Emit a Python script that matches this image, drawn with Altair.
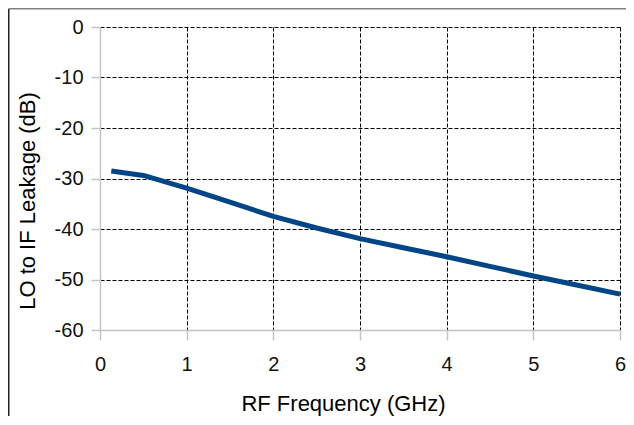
import altair as alt
import pandas as pd

# Data
freq_ghz = [0.13, 0.5, 1.0, 1.5, 2.0, 2.5, 3.0, 3.5, 4.0, 4.5, 5.0, 5.5, 6.0]
leakage_db = [-28.5, -29.4, -31.9, -34.7, -37.5, -39.8, -41.9, -43.7, -45.5, -47.4, -49.3, -51.1, -52.9]
x_ticks = [0, 1, 2, 3, 4, 5, 6]
y_ticks = [0, -10, -20, -30, -40, -50, -60]

df = pd.DataFrame({"freq": freq_ghz, "leak": leakage_db})

W, H = 520, 303
FONT = "Liberation Sans"
AXIS_GRAY = "#c4c4c4"

x_axis = alt.Axis(
    values=x_ticks,
    title="RF Frequency (GHz)",
    labelExpr="'' + datum.value",
    labelFont=FONT, labelFontSize=20, labelColor="#111111",
    labelBaseline="alphabetic", labelPadding=30,
    tickSize=10, tickColor=AXIS_GRAY, tickWidth=1.5,
    domainColor=AXIS_GRAY, domainWidth=1.5,
    grid=True,
    gridColor=alt.condition("datum.value == 0", alt.value("transparent"), alt.value("#000000")),
    gridDash=[4, 2], gridWidth=1,
    titleFont=FONT, titleFontSize=22, titleFontWeight="normal", titleColor="#000000",
    titleBaseline="alphabetic", titleX=243, titleY=80, titleAlign="center",
    labelFlush=False,
)

y_axis = alt.Axis(
    values=y_ticks,
    title="LO to IF Leakage (dB)",
    labelExpr="'' + datum.value",
    labelFont=FONT, labelFontSize=20, labelColor="#111111",
    labelPadding=8,
    tickSize=9, tickColor=AXIS_GRAY, tickWidth=1.5,
    domainColor=AXIS_GRAY, domainWidth=1.5,
    grid=True,
    gridColor=alt.condition("datum.value == -60", alt.value("transparent"), alt.value("#000000")),
    gridDash=[4, 2], gridWidth=1,
    titleFont=FONT, titleFontSize=22, titleFontWeight="normal", titleColor="#000000",
    titleAngle=270, titleBaseline="alphabetic", titleAlign="center",
    titleX=-66, titleY=173.5,
    labelFlush=False,
)

line = alt.Chart(df).mark_line(color="#004586", strokeWidth=5, strokeJoin="round").encode(
    x=alt.X("freq:Q", scale=alt.Scale(domain=[0, 6], nice=False, zero=False), axis=x_axis),
    y=alt.Y("leak:Q", scale=alt.Scale(domain=[-60, 0], nice=False, zero=False), axis=y_axis),
)

frame_df = pd.DataFrame({"k": [0]})
frame_left = alt.Chart(frame_df).mark_rule(color="#222222", strokeWidth=1.5).encode(
    x=alt.value(-91.25), y=alt.value(-18.25), y2=alt.value(400)
)
frame_top = alt.Chart(frame_df).mark_rule(color="#808080", strokeWidth=1.5).encode(
    x=alt.value(-91.25), x2=alt.value(540), y=alt.value(-18.25)
)

chart = alt.layer(line, frame_left, frame_top).properties(
    width=W,
    height=H,
    padding={"left": 92, "top": 19, "right": 6, "bottom": 86},
    autosize=alt.AutoSizeParams(type="none"),
    background="white",
).configure_view(stroke=None)

chart.save("out.html", embed_options={"renderer": "svg", "actions": False})
